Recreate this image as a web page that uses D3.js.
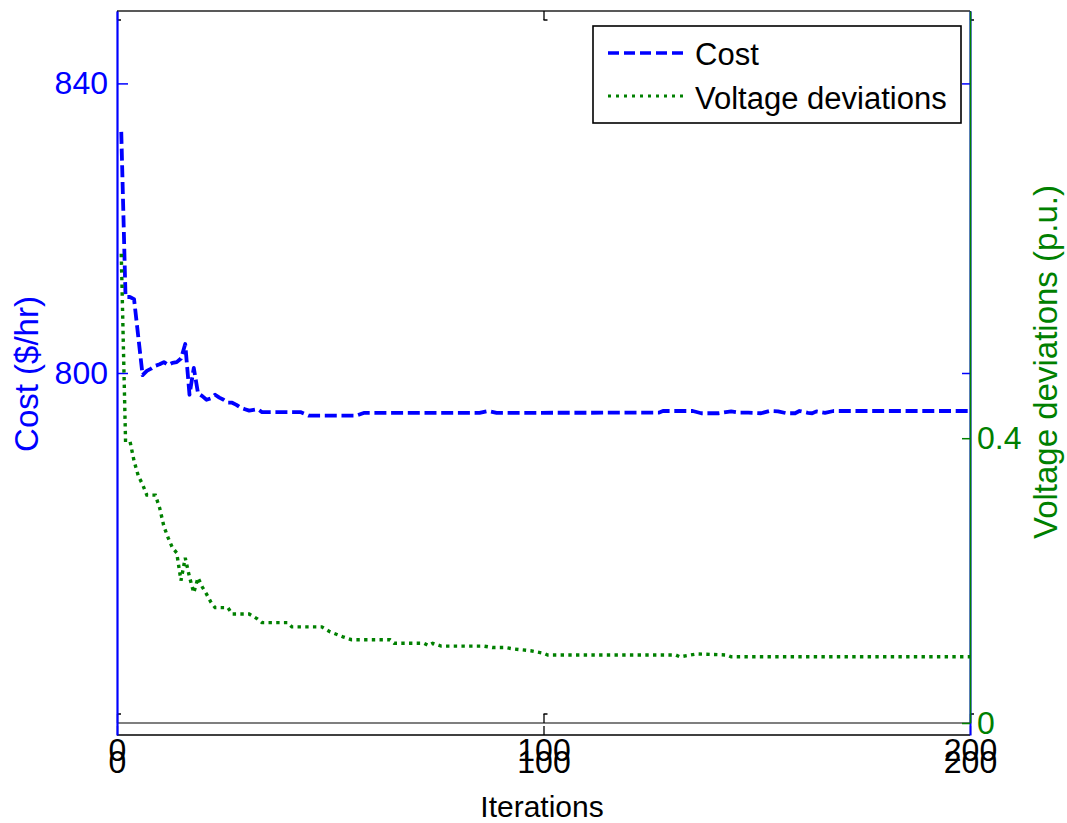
<!DOCTYPE html>
<html>
<head>
<meta charset="utf-8">
<script src="https://cdn.jsdelivr.net/npm/d3@7"></script>
<style>
  body { margin: 0; background: #fff; }
  svg { display: block; }
  text { font-family: "Liberation Sans", Arial, Helvetica, sans-serif; }
</style>
</head>
<body>
<svg id="chart" width="1067" height="823"></svg>
<script>
// Convergence history: generation cost and voltage deviations per iteration
const costIter  = [1, 2, 3, 4, 6, 7, 8, 9, 10, 11, 12, 13, 14, 15, 16, 17, 18, 19, 20, 21, 22, 23, 24, 25, 26, 27, 28, 29, 30, 31, 32, 33, 34, 43, 45, 56, 58, 85, 87, 89, 127, 128, 135, 137, 141, 144, 146, 148, 151, 153, 155, 157, 159, 160, 162, 163, 164, 166, 168, 200];
const costValue = [833.3, 810.5, 810.5, 810.2, 799.7, 800.3, 800.6, 801.0, 801.2, 801.5, 801.1, 801.4, 801.5, 802.0, 804.0, 797.0, 800.7, 797.2, 796.8, 796.3, 796.5, 797.0, 796.6, 796.3, 795.9, 795.9, 795.6, 795.2, 795.0, 794.8, 794.9, 795.0, 794.6, 794.6, 794.1, 794.1, 794.5, 794.5, 794.75, 794.5, 794.52, 794.75, 794.75, 794.44, 794.44, 794.7, 794.52, 794.52, 794.44, 794.75, 794.7, 794.44, 794.44, 794.75, 794.5, 794.44, 794.7, 794.5, 794.75, 794.75];

const voltIter  = [1, 2, 3, 4, 5, 6, 7, 8, 9, 10, 11, 12, 13, 14, 15, 16, 17, 18, 19, 20, 21, 22, 23, 26, 27, 31, 33, 34, 40, 41, 48, 50, 53, 55, 64, 65, 72, 73, 74, 76, 86, 88, 91, 93, 97, 100, 101, 131, 132, 136, 143, 144, 200];
const voltValue = [0.659, 0.397, 0.397, 0.368, 0.347, 0.335, 0.320, 0.320, 0.320, 0.302, 0.276, 0.260, 0.246, 0.239, 0.200, 0.232, 0.205, 0.183, 0.204, 0.191, 0.181, 0.170, 0.162, 0.162, 0.153, 0.153, 0.146, 0.141, 0.141, 0.135, 0.135, 0.128, 0.121, 0.117, 0.117, 0.112, 0.112, 0.109, 0.112, 0.108, 0.108, 0.106, 0.106, 0.104, 0.1015, 0.098, 0.0955, 0.0955, 0.093, 0.097, 0.0955, 0.093, 0.093];

const xTicks    = [0, 100, 200];
const costTicks = [800, 840];
const voltTicks = [0, 0.4];
const seriesNames = ["Cost", "Voltage deviations"];

const BLUE = "#0000ff", GREEN = "#008000";

const svg = d3.select("#chart");

const x     = d3.scaleLinear().domain([0, 200]).range([117, 970]);
const yCost = d3.scaleLinear().domain([750, 850]).range([735, 11]);
const yVolt = d3.scaleLinear().domain([0, 1]).range([723, 11]);

// ---- frame lines ----
svg.append("line").attr("x1", 117).attr("x2", 970).attr("y1", 11).attr("y2", 11)
  .attr("stroke", "#222").attr("stroke-width", 1.5);
svg.append("line").attr("x1", 117).attr("x2", 970).attr("y1", 723).attr("y2", 723)
  .attr("stroke", "#555").attr("stroke-width", 1.3);
svg.append("line").attr("x1", 117).attr("x2", 970).attr("y1", 735).attr("y2", 735)
  .attr("stroke", "#000").attr("stroke-width", 1.5);

// ---- x axes (two overlaid axes, each with its own tick labels) ----
function xAxis(yPos, withLabels) {
  const g = svg.append("g").attr("transform", `translate(0,${yPos})`)
    .call(d3.axisBottom(x).tickValues(xTicks).tickSize(-9).tickSizeOuter(0).tickPadding(15)
      .tickFormat(withLabels ? d3.format("d") : () => ""));
  g.select(".domain").remove();
  g.selectAll(".tick line").attr("stroke", "#000").attr("stroke-width", 1.3);
  g.selectAll(".tick text").attr("fill", "#000").style("font-size", "32px");
  return g;
}
xAxis(723, true);
xAxis(735, true);
const topAxis = svg.append("g").attr("transform", "translate(0,11)")
  .call(d3.axisTop(x).tickValues(xTicks).tickSize(-9).tickSizeOuter(0).tickFormat(() => ""));
topAxis.select(".domain").remove();
topAxis.selectAll(".tick line").attr("stroke", "#000").attr("stroke-width", 1.3);

// small tick caps
svg.append("g").selectAll("line").data(xTicks).join("line")
  .attr("x1", d => x(d)).attr("x2", d => x(d) + 4).attr("y1", 20).attr("y2", 20)
  .attr("stroke", "#000").attr("stroke-width", 1.5);
svg.append("g").selectAll("line").data(xTicks).join("line")
  .attr("x1", d => x(d)).attr("x2", d => x(d) + 4).attr("y1", 714).attr("y2", 714)
  .attr("stroke", "#000").attr("stroke-width", 1.5);

// ---- left (cost) axis ----
const leftAxis = svg.append("g").attr("transform", "translate(117,0)")
  .call(d3.axisLeft(yCost).tickValues(costTicks).tickSize(-11).tickSizeOuter(0).tickPadding(9));
leftAxis.select(".domain").attr("stroke", BLUE).attr("stroke-width", 2.2);
leftAxis.selectAll(".tick line").attr("stroke", BLUE).attr("stroke-width", 1.5);
leftAxis.selectAll(".tick text").attr("fill", BLUE).style("font-size", "32px");

// cost axis mirrored on the right edge
const rightCost = svg.append("g").attr("transform", "translate(970,0)")
  .call(d3.axisRight(yCost).tickValues(costTicks).tickSize(-8).tickSizeOuter(0).tickFormat(() => ""));
rightCost.select(".domain").attr("stroke", BLUE).attr("stroke-width", 2);
rightCost.selectAll(".tick line").attr("stroke", BLUE).attr("stroke-width", 1.5);

// ---- right (voltage) axis ----
const rightAxis = svg.append("g").attr("transform", "translate(970,0)")
  .call(d3.axisRight(yVolt).tickValues(voltTicks).tickSize(-8).tickSizeOuter(0).tickPadding(7)
    .tickFormat(d => d === 0 ? "0" : d3.format(".1f")(d)));
rightAxis.select(".domain").attr("stroke", GREEN).attr("stroke-width", 1.6);
rightAxis.selectAll(".tick line").attr("stroke", GREEN).attr("stroke-width", 1.5);
rightAxis.selectAll(".tick text").attr("fill", GREEN).style("font-size", "32px");

// ---- axis titles ----
svg.append("text").attr("transform", "translate(38,374) rotate(-90)")
  .attr("text-anchor", "middle").attr("fill", BLUE).style("font-size", "33px")
  .text("Cost ($/hr)");
svg.append("text").attr("transform", "translate(1057,362) rotate(-90)")
  .attr("text-anchor", "middle").attr("fill", GREEN).style("font-size", "33px")
  .text("Voltage deviations (p.u.)");
svg.append("text").attr("x", 542).attr("y", 817)
  .attr("text-anchor", "middle").attr("fill", "#000").style("font-size", "30px")
  .text("Iterations");

// ---- series ----
const costLine = d3.line().x((d, i) => x(costIter[i])).y(d => yCost(d));
const voltLine = d3.line().x((d, i) => x(voltIter[i])).y(d => yVolt(d));

svg.append("path").datum(costValue).attr("d", costLine)
  .attr("fill", "none").attr("stroke", BLUE).attr("stroke-width", 3.8)
  .attr("stroke-dasharray", "12,4.7").attr("stroke-linejoin", "round");
svg.append("path").datum(voltValue).attr("d", voltLine)
  .attr("fill", "none").attr("stroke", GREEN).attr("stroke-width", 3.4)
  .attr("stroke-dasharray", "3.4,4.3");

// ---- legend ----
const legend = svg.append("g");
legend.append("rect").attr("x", 593).attr("y", 26).attr("width", 368).attr("height", 97)
  .attr("fill", "#fff").attr("stroke", "#000").attr("stroke-width", 1.6);
const legendRows = [
  { name: seriesNames[0], color: BLUE,  dash: "11,5", width: 3.6, y: 53,  base: 65 },
  { name: seriesNames[1], color: GREEN, dash: "3,5",  width: 3.2, y: 96,  base: 109 }
];
legendRows.forEach(r => {
  legend.append("line").attr("x1", 608).attr("x2", 683).attr("y1", r.y).attr("y2", r.y)
    .attr("stroke", r.color).attr("stroke-width", r.width).attr("stroke-dasharray", r.dash);
  legend.append("text").attr("x", 695).attr("y", r.base).attr("fill", "#000")
    .style("font-size", "31px").text(r.name);
});
</script>
</body>
</html>
